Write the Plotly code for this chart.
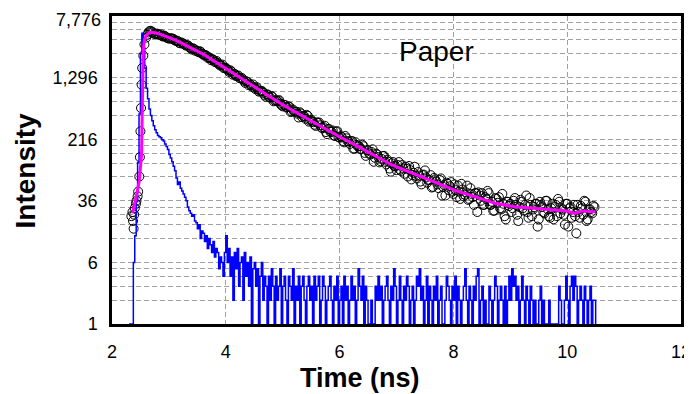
import plotly.graph_objects as go

# ---------------- data ----------------
# rising edge of the measured decay (explicit times, ns)
rise_time = [2.34, 2.36, 2.37, 2.38, 2.39, 2.40, 2.42, 2.43, 2.45, 2.46,
             2.48, 2.49, 2.50, 2.51, 2.52, 2.53, 2.55, 2.57]
rise_counts = [23, 26, 20, 16, 24, 29, 33, 36, 41, 47,
               73, 128, 272, 535, 1055, 1714, 2455, 3400]

# measured decay, even channels (every 0.04 ns starting at 2.60 ns)
decay_even_start = 2.60
decay_odd_start = 2.62
decay_step = 0.04
decay_even_counts = [
    4150, 4820, 5060, 4815, 4603, 4639, 4485, 4341, 4392, 4169,
    4033, 4040, 3986, 3782, 3734, 3511, 3522, 3368, 3332, 3127,
    2937, 2988, 2866, 2707, 2746, 2567, 2501, 2305, 2277, 2225,
    2057, 2098, 1898, 1854, 1720, 1727, 1613, 1603, 1413, 1437,
    1364, 1276, 1285, 1179, 1165, 1043, 1042, 1059, 930, 926,
    871, 875, 783, 796, 735, 760, 650, 670, 663, 605,
    562, 585, 548, 555, 485, 485, 480, 406, 457, 427,
    391, 427, 371, 363, 329, 352, 351, 303, 306, 266,
    291, 267, 278, 237, 273, 226, 228, 197, 222, 201,
    202, 164, 198, 176, 162, 184, 145, 157, 143, 149,
    112, 142, 129, 114, 132, 112, 119, 92, 107, 99,
    88, 111, 86, 92, 97, 73, 88, 76, 97, 69,
    75, 58, 77, 71, 66, 76, 54, 67, 58, 66,
    42, 57, 61, 49, 62, 44, 49, 56, 38, 50,
    43, 56, 38, 44, 32, 45, 46, 36, 32, 40,
    48, 32, 35, 27, 38, 40, 28, 33, 21, 35,
    33, 29, 39, 24, 30, 35, 27, 42, 22, 32,
    28, 33, 17, 35, 30, 25, 36, 23, 29, 21,
    32, 38, 25, 28, 18, 33, 29, 22, 32, 14,
    26, 31, 24, 35, 21, 28, 25, 30,
]
# measured decay, odd channels (every 0.04 ns starting at 2.62 ns)
decay_odd_counts = [
    4516, 5006, 4924, 4639, 4651, 4515, 4556, 4272, 4273, 4072,
    4052, 4050, 3831, 3801, 3553, 3601, 3436, 3290, 3289, 3064,
    3046, 2832, 2807, 2796, 2605, 2474, 2454, 2344, 2150, 2184,
    2037, 1987, 1846, 1891, 1707, 1665, 1530, 1545, 1449, 1354,
    1374, 1266, 1230, 1112, 1146, 1085, 998, 970, 984, 862,
    875, 833, 742, 789, 723, 738, 662, 655, 672, 578,
    587, 545, 560, 476, 511, 478, 454, 473, 411, 421,
    438, 360, 381, 354, 318, 348, 324, 297, 319, 250,
    289, 267, 241, 269, 230, 236, 205, 237, 205, 188,
    205, 164, 183, 176, 163, 176, 133, 156, 138, 161,
    126, 139, 110, 122, 133, 104, 112, 84, 111, 98,
    102, 89, 102, 79, 91, 99, 67, 81, 74, 83,
    63, 76, 87, 61, 66, 53, 70, 63, 52, 69,
    54, 42, 59, 55, 47, 58, 40, 47, 59, 41,
    46, 37, 52, 40, 45, 26, 42, 45, 32, 38,
    45, 32, 27, 39, 34, 29, 44, 23, 35, 31,
    26, 36, 32, 20, 37, 29, 32, 26, 39, 23,
    30, 33, 21, 32, 26, 36, 28, 22, 33, 30,
    23, 35, 29, 24, 33, 17, 30, 26, 23, 32,
    22, 29, 36, 20, 28, 26, 31,
]

# fitted curve (magenta)
fit_time = [2.36, 2.40, 2.44, 2.48, 2.50, 2.52, 2.53, 2.54, 2.55, 2.57,
            2.60, 2.65, 2.70, 2.80, 3.00, 3.14, 3.40, 3.60, 3.80, 4.00,
            4.30, 4.57, 4.90, 5.16, 5.45, 5.74, 6.00, 6.33, 6.60, 6.92,
            7.20, 7.50, 7.80, 8.09, 8.38, 8.73, 9.08, 9.43, 9.79, 9.99,
            10.14, 10.26, 10.50]
fit_counts = [25, 33, 45, 65, 88, 140, 420, 1250, 2900, 3900,
              4400, 4750, 4840, 4720, 4150, 3790, 3030, 2577, 2090, 1690,
              1220, 904, 650, 505, 385, 297, 232, 174, 136, 102,
              84.5, 69, 56.8, 47, 40.6, 33.5, 30.3, 28.9, 28.1, 26.8,
              25.0, 26.8, 26.2]

# instrument response function (blue), channels every 0.025 ns from 2.30 ns
irf_start = 2.30
irf_step = 0.025
irf_counts = [
    1, 1, 1, 6, 13, 35, 110, 450, 2600, 4700,
    3100, 1700, 950, 700, 520, 430, 370, 320, 285, 260,
    240, 232, 225, 212, 205, 188, 175, 160, 138, 125,
    112, 98, 86, 70, 58, 62, 52, 48, 44, 40,
    36, 30, 27, 25, 23, 24, 20, 19, 16, 18,
    12, 15, 14, 11, 13, 9, 12, 10, 8, 11,
    7, 9, 8, 5, 7, 6, 4, 8, 13, 6,
    9, 4, 7, 2, 8, 5, 9, 3, 6, 7,
    2, 8, 4, 6, 3, 7, 1, 5, 6, 3,
    5, 1, 4, 6, 2, 4, 3, 1, 4, 2,
    5, 3, 1, 4, 2, 3, 5, 1, 3, 4,
    2, 1, 4, 3, 2, 5, 1, 3, 2, 4,
    1, 3, 4, 2, 1, 3, 4, 2, 3, 1,
    4, 2, 3, 4, 1, 2, 4, 3, 1, 2,
    3, 4, 2, 1, 3, 2, 4, 1, 2, 3,
    1, 4, 2, 3, 1, 2,
    4, 2, 3, 1, 2, 5, 3, 2, 4, 1, 3, 2,
    1, 1, 2, 1, 1, 3, 2, 4, 2, 3, 1, 2,
    3, 4, 2, 1, 3, 2, 5, 3, 1, 2, 4, 2,
    1, 3, 2, 4, 3, 1, 2, 3, 1, 2, 4, 3,
    5, 2, 3, 1, 2, 4, 1, 3, 2, 1, 3, 2,
    4, 1, 2, 3, 1, 1, 2, 4, 3, 2, 1, 3,
    2, 4, 1, 3, 2, 1, 2, 3, 5, 2, 1, 3,
    2, 1, 3, 2, 4, 5, 1, 2, 3, 1, 2, 1,
    1, 3, 2, 1, 2, 4, 3, 1, 2, 3, 2, 1,
    3, 1, 2, 4, 2, 5, 3, 4, 2, 3, 1, 2,
    4, 2, 1, 3, 2, 1, 3, 2, 1, 2, 1, 1,
    2, 3, 1, 2, 1, 1, 1, 2, 1, 1, 1, 1,
    1, 1, 3, 2, 1, 1, 2, 4, 2, 1, 3, 4,
    2, 4, 3, 1, 2, 3, 2, 1, 3, 2, 1, 2,
    3, 1, 2, 2, 1,
]

y_tick_vals = [1, 6, 36, 216, 1296, 7776]
y_tick_text = ["1", "6", "36", "216", "1,296", "7,776"]
y_minor_vals = [2, 3, 4, 5, 12, 18, 24, 30, 72, 108, 144, 180,
                432, 648, 864, 1080, 2592, 3888, 5184, 6480]
x_tick_vals = [2, 4, 6, 8, 10, 12]

# ---------------- figure ----------------
decay_even_time = [round(decay_even_start + i * decay_step, 4) for i in range(len(decay_even_counts))]
decay_odd_time = [round(decay_odd_start + i * decay_step, 4) for i in range(len(decay_odd_counts))]
irf_time = [round(irf_start + i * irf_step, 4) for i in range(len(irf_counts))]

FONT = "Liberation Sans, Arial, sans-serif"
GRID = "#a0a0a0"
DASH = "5px,3px"

marker_style = dict(symbol="circle-open", size=9, color="black", line=dict(width=1, color="black"))

fig = go.Figure()
fig.add_trace(go.Scatter(
    x=rise_time + decay_even_time, y=rise_counts + decay_even_counts, mode="markers",
    marker=marker_style, hoverinfo="skip"))
fig.add_trace(go.Scatter(
    x=decay_odd_time, y=decay_odd_counts, mode="markers",
    marker=marker_style, hoverinfo="skip"))
fig.add_trace(go.Scatter(
    x=irf_time, y=irf_counts, mode="lines", line=dict(color="#0000ff", width=1.5, shape="hv"),
    hoverinfo="skip"))
fig.add_trace(go.Scatter(
    x=fit_time, y=fit_counts, mode="lines", line=dict(color="#ff00ff", width=3),
    hoverinfo="skip"))

# the top tick label sits at the very edge of the page, so it is drawn as an
# annotation nudged just inside the figure; the other labels come from the axis
axis_tick_text = y_tick_text[:-1] + [""]

fig.update_xaxes(
    range=[2, 12], tickmode="array", tickvals=x_tick_vals, automargin=False,
    ticklabeloverflow="allow",
    showgrid=True, gridcolor=GRID, griddash=DASH, gridwidth=1,
    showline=True, linecolor="black", linewidth=2.5, mirror=True,
    ticks="outside", ticklen=10, tickcolor="rgba(0,0,0,0)",
    tickfont=dict(family=FONT, size=18, color="black"), zeroline=False)
fig.update_yaxes(
    type="log", range=[0, 3.8907563], tickmode="array", automargin=False,
    ticklabeloverflow="allow",
    tickvals=y_tick_vals, ticktext=axis_tick_text,
    showgrid=True, gridcolor=GRID, griddash=DASH, gridwidth=1,
    minor=dict(tickmode="array", tickvals=y_minor_vals, showgrid=True,
               gridcolor=GRID, griddash=DASH, gridwidth=1, ticks=""),
    showline=True, linecolor="black", linewidth=2.5, mirror=True,
    ticks="outside", ticklen=8, tickcolor="rgba(0,0,0,0)",
    tickfont=dict(family=FONT, size=18, color="black"), zeroline=False)

fig.add_annotation(text=y_tick_text[-1], xref="paper", yref="paper", x=-0.0176, y=1.0235,
                   showarrow=False, font=dict(family=FONT, size=18, color="black"),
                   xanchor="right", yanchor="top", borderpad=0)
fig.add_annotation(text="Paper", xref="paper", yref="paper", x=0.571, y=0.885,
                   showarrow=False, font=dict(family=FONT, size=28, color="black"),
                   xanchor="center", yanchor="middle")
fig.add_annotation(text="<b>Time (ns)</b>", xref="paper", yref="paper", x=0.436, y=-0.175,
                   showarrow=False, font=dict(family=FONT, size=27, color="black"),
                   xanchor="center", yanchor="middle")
fig.add_annotation(text="<b>Intensity</b>", xref="paper", yref="paper", x=-0.152, y=0.497,
                   showarrow=False, textangle=-90, font=dict(family=FONT, size=28, color="black"),
                   xanchor="center", yanchor="middle")

# the page body adds an 8 px offset; the figure is sized so the plot area
# lands at the same place as in the reference window
fig.update_layout(
    width=684, height=386, margin=dict(l=104, r=11, t=8, b=70, autoexpand=False),
    plot_bgcolor="white", paper_bgcolor="white", showlegend=False)

fig.write_html("out.html")
